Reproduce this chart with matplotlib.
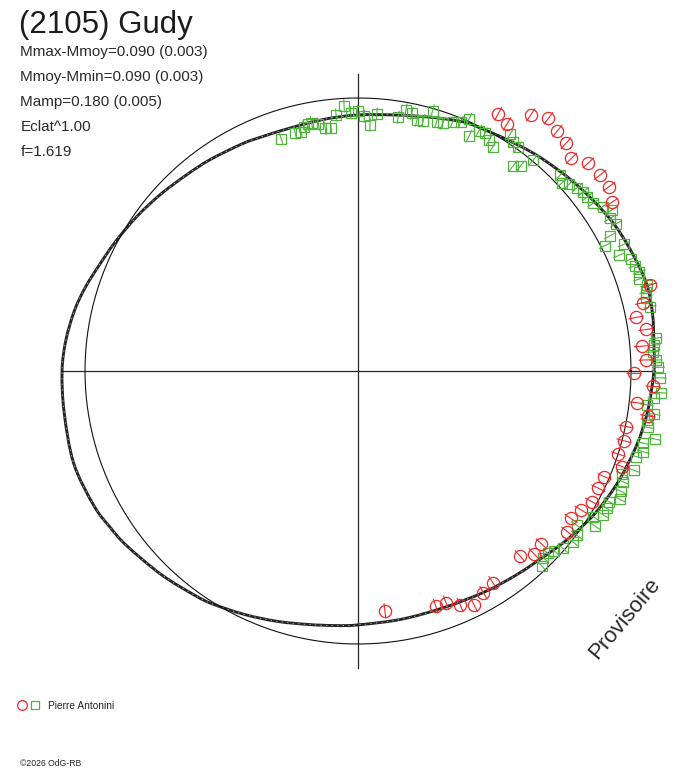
import matplotlib
matplotlib.use('Agg')
import matplotlib.pyplot as plt
import numpy as np
from matplotlib.collections import LineCollection
from matplotlib.path import Path
from matplotlib.patches import PathPatch

# Courbe ajustée (angle de phase en degrés, rayon relatif au cercle moyen)
courbe_ang = [0, 5, 11, 17, 24, 30, 36, 42, 48, 52, 56, 60, 66, 70, 74, 81, 90, 98,
              106, 112, 117, 125, 131, 138, 145, 152, 158, 163, 168, 174, 180, 188,
              198, 207, 212, 217, 226, 234, 238, 245, 252, 259, 265, 270, 280, 290,
              300, 308, 315, 320, 325, 330, 337, 345, 352]
courbe_r = [1.084, 1.088, 1.099, 1.104, 1.092, 1.081, 1.064, 1.048, 1.032, 1.022,
            1.011, 1.002, 0.993, 0.980, 0.967, 0.949, 0.938, 0.930, 0.924, 0.927,
            0.934, 0.945, 0.954, 0.970, 0.988, 1.007, 1.025, 1.045, 1.062, 1.076,
            1.084, 1.087, 1.095, 1.086, 1.074, 1.062, 1.037, 1.016, 1.006, 0.984,
            0.964, 0.946, 0.936, 0.930, 0.923, 0.922, 0.933, 0.946, 0.962, 0.980,
            0.998, 1.016, 1.036, 1.056, 1.071]

# Observations - série rouge (cercles)
rouge_ang = [61.4, 58.9, 56.0, 53.0, 50.3, 47.6, 44.9, 42.1, 39.0, 36.3, 33.6, 16.4,
             13.5, 10.9, 8.2, 5.0, 2.2, -0.5, -3.0, -6.5, -8.8, -11.7, -14.7, -17.7,
             -19.9, -23.2, -26.0, -29.2, -31.9, -34.7, -37.5, -43.3, -46.1, -48.8,
             -57.5, -60.5, -63.6, -66.4, -69.2, -71.7, -83.6]
rouge_r = [1.073, 1.057, 1.131, 1.159, 1.144, 1.130, 1.104, 1.137, 1.141, 1.141,
           1.116, 1.115, 1.072, 1.037, 1.066, 1.043, 1.056, 1.011, 1.083, 1.027,
           1.074, 1.003, 1.007, 1.001, 1.028, 0.982, 0.979, 0.981, 0.963, 0.949,
           0.967, 0.923, 0.930, 0.901, 0.919, 0.933, 0.958, 0.935, 0.908, 0.907,
           0.884]

# Observations - série verte (carrés)
vert_ang = [108.3, 104.8, 103.4, 102.4, 101.5, 100.6, 99.1, 97.7, 96.3, 94.9, 93.0,
            91.6, 90.1, 88.6, 87.2, 85.8, 81.0, 79.6, 78.2, 76.8, 75.4, 74.0, 72.5,
            71.1, 69.2, 67.6, 66.2, 64.7, 63.3, 61.9, 60.4, 59.0, 57.3, 56.0, 54.5,
            52.9, 51.6, 50.3, 44.1, 42.7, 41.5, 39.9, 38.5, 37.2, 35.5, 33.9, 32.4,
            31.2, 29.7, 28.2, 26.9, 25.5, 23.9, 22.3, 20.8, 19.4, 18.1, 16.6, 15.4,
            14.2, 12.4, 6.3, 5.0, 3.7, 2.1, 0.7, -1.3, -4.1, -5.3, -6.7, -8.3, -9.6,
            -11.0, -12.9, -14.2, -15.8, -17.1, -19.8, -21.3, -22.7, -24.6, -26.1,
            -27.5, -28.9, -30.4, -31.8, -33.2, -35.2, -36.9, -38.5, -40.9, -42.5,
            -43.9, -45.2, -46.7]
vert_r = [0.896, 0.901, 0.901, 0.916, 0.922, 0.925, 0.916, 0.897, 0.897, 0.941, 0.973,
          0.947, 0.952, 0.934, 0.902, 0.944, 0.941, 0.972, 0.964, 0.944, 0.948, 0.992,
          0.958, 0.959, 0.977, 0.986, 1.008, 0.952, 0.985, 0.987, 0.973, 0.958, 1.030,
          1.013, 1.007, 0.942, 0.959, 1.005, 1.031, 1.015, 1.033, 1.047, 1.052, 1.055,
          1.058, 1.080, 1.101, 1.079, 1.088, 1.048, 1.015, 1.080, 1.047, 1.080, 1.085,
          1.093, 1.084, 1.103, 1.093, 1.087, 1.095, 1.098, 1.088, 1.082, 1.092, 1.100,
          1.107, 1.112, 1.089, 1.065, 1.096, 1.073, 1.081, 1.116, 1.076, 1.086, 1.066,
          1.075, 1.038, 1.051, 1.060, 1.069, 1.038, 1.041, 1.042, 1.014, 1.038, 0.980,
          1.001, 1.005, 0.992, 0.975, 0.964, 0.963, 0.981]

err_rouge = 0.028
err_vert = 0.024

titre = '(2105) Gudy'
infos = ['Mmax-Mmoy=0.090 (0.003)', 'Mmoy-Mmin=0.090 (0.003)',
         'Mamp=0.180 (0.005)', 'Eclat^1.00', 'f=1.619']
observateur = 'Pierre Antonini'
copyright_txt = '\u00a92026 OdG-RB'

ROUGE = '#f02828'
VERT = '#50b43c'
GRIS = '#262626'

W, H = 688, 768
cx, cy, echelle = 358, 371, 273.0

plt.rcParams['font.family'] = ['Liberation Sans', 'DejaVu Sans']
fig = plt.figure(figsize=(W / 100, H / 100), dpi=100)
ax = fig.add_axes([0, 0, 1, 1])
ax.set_xlim(-cx / echelle, (W - cx) / echelle)
ax.set_ylim(-(H - cy) / echelle, cy / echelle)
ax.axis('off')


def polaire(ang, r):
    a = np.radians(np.asarray(ang, dtype=float))
    r = np.asarray(r, dtype=float)
    return r * np.cos(a), r * np.sin(a)


def chemin_lisse(x, y):
    # courbe fermée passant par les points (Catmull-Rom -> Bézier)
    p = np.column_stack([x, y])
    n = len(p)
    verts = [p[0]]
    codes = [Path.MOVETO]
    for i in range(n):
        p0, p1, p2, p3 = p[i - 1], p[i], p[(i + 1) % n], p[(i + 2) % n]
        verts += [p1 + (p2 - p0) / 6, p2 - (p3 - p1) / 6, p2]
        codes += [Path.CURVE4] * 3
    return Path(verts, codes)


# axes en croix et cercle de référence
rmax = max(courbe_r) * 0.985
ax.plot([-rmax, rmax], [0, 0], color=GRIS, lw=0.9)
ax.plot([0, 0], [-rmax, rmax], color=GRIS, lw=0.9)
t = np.linspace(0, 2 * np.pi, 400)
ax.plot(np.cos(t), np.sin(t), color='#111111', lw=0.8)

# courbe ajustée
xa, ya = polaire(courbe_ang, courbe_r)
chemin = chemin_lisse(xa, ya)
ax.add_patch(PathPatch(chemin, fc='none', ec=GRIS, lw=2.1))
ax.add_patch(PathPatch(chemin, fc='none', ec='white', lw=0.5, ls=(0, (2, 6)),
                       alpha=0.8))


def serie(ang, r, err, couleur, marqueur, taille):
    x, y = polaire(ang, r)
    a = np.radians(ang)
    r = np.asarray(r)
    segs = [[((ri - err) * np.cos(ai), (ri - err) * np.sin(ai)),
             ((ri + err) * np.cos(ai), (ri + err) * np.sin(ai))]
            for ai, ri in zip(a, r)]
    ax.add_collection(LineCollection(segs, colors=couleur, linewidths=0.8))
    ax.plot(x, y, ls='none', marker=marqueur, ms=taille, mfc='none',
            mec=couleur, mew=0.9)


serie(vert_ang, vert_r, err_vert, VERT, 's', 7.2)
serie(rouge_ang, rouge_r, err_rouge, ROUGE, 'o', 8.8)

# textes
fig.text(19 / W, 1 - 33 / H, titre, fontsize=22.5, color='#1c1c1c', va='baseline')
for i, ligne in enumerate(infos):
    fig.text(20.5 / W, 1 - (56 + 25 * i) / H, ligne, fontsize=11,
             color='#2a2a2a', va='baseline')

fig.text(625 / W, 1 - 619 / H, 'Provisoire', fontsize=16, color='#2a2a2a',
         rotation=50, ha='center', va='center')

# légende observateur
ax.plot([22.3 / W], [1 - 705 / H], marker='o', ms=7, mfc='none', mec=ROUGE,
        mew=0.9, transform=ax.transAxes)
ax.plot([35 / W], [1 - 705 / H], marker='s', ms=5.2, mfc='none', mec=VERT,
        mew=0.9, transform=ax.transAxes)
fig.text(48 / W, 1 - 709 / H, observateur, fontsize=7.3, color='#222222',
         va='baseline')
fig.text(20.5 / W, 1 - 766 / H, copyright_txt, fontsize=6.2, color='#222222',
         va='baseline')

fig.savefig('out.png', dpi=100)
